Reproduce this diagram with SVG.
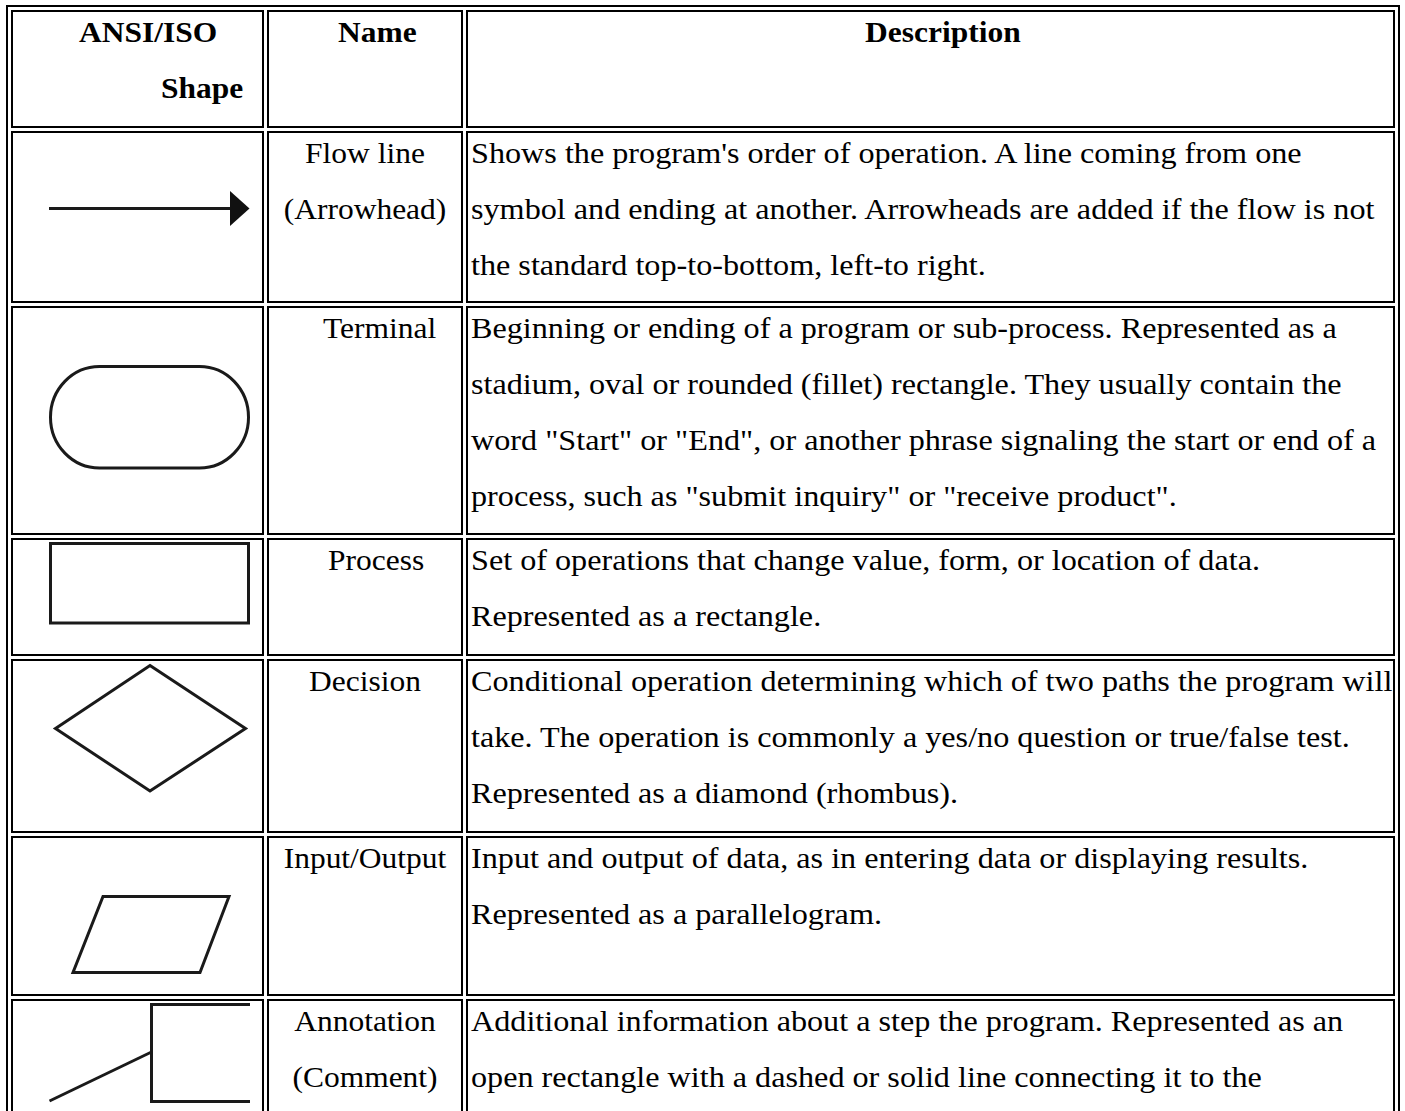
<svg xmlns="http://www.w3.org/2000/svg" width="1405" height="1111" viewBox="0 0 1405 1111">
<style>
.bd{fill:none;stroke:#000;stroke-width:2}
.t{font-family:"Liberation Serif","Times New Roman",serif;font-size:29px;fill:#000}
.h{font-weight:bold}
.m{text-anchor:middle}
.sh{fill:none;stroke:#1a1a1a;stroke-width:3}
</style>
<rect width="1405" height="1111" fill="#fff"/>
<g id="table-frame">
<path class="bd" d="M7,1200 V6 H1399 V1200"/>
</g>
<g id="header">
<rect class="bd" x="12" y="11" width="251" height="116"/>
<rect class="bd" x="268" y="11" width="194" height="116"/>
<rect class="bd" x="467" y="11" width="927" height="116"/>
<text class="t h" transform="translate(79 42) scale(1.086 1)">ANSI/ISO</text>
<text class="t h" transform="translate(161 98) scale(1.086 1)">Shape</text>
<text class="t h" transform="translate(338 42) scale(1.086 1)">Name</text>
<text class="t h" transform="translate(865 42) scale(1.086 1)">Description</text>
</g>
<g id="row-flowline">
<rect class="bd" x="12" y="132" width="251" height="170"/>
<rect class="bd" x="268" y="132" width="194" height="170"/>
<rect class="bd" x="467" y="132" width="927" height="170"/>
<line class="sh" x1="49" y1="208.5" x2="233" y2="208.5"/>
<polygon points="230,191 249.5,208.5 230,226" fill="#111"/>
<text class="t m" transform="translate(365 163) scale(1.086 1)">Flow line</text>
<text class="t m" transform="translate(365 219) scale(1.086 1)">(Arrowhead)</text>
<text class="t" transform="translate(471 163) scale(1.11 1)">Shows the program's order of operation. A line coming from one</text>
<text class="t" transform="translate(471 219) scale(1.11 1)">symbol and ending at another. Arrowheads are added if the flow is not</text>
<text class="t" transform="translate(471 275) scale(1.11 1)">the standard top-to-bottom, left-to right.</text>
</g>
<g id="row-terminal">
<rect class="bd" x="12" y="307" width="251" height="227"/>
<rect class="bd" x="268" y="307" width="194" height="227"/>
<rect class="bd" x="467" y="307" width="927" height="227"/>
<rect class="sh" x="50.5" y="366.5" width="198" height="101.5" rx="49" ry="50.75"/>
<text class="t" transform="translate(323 338) scale(1.086 1)">Terminal</text>
<text class="t" transform="translate(471 338) scale(1.11 1)">Beginning or ending of a program or sub-process. Represented as a</text>
<text class="t" transform="translate(471 394) scale(1.11 1)">stadium, oval or rounded (fillet) rectangle. They usually contain the</text>
<text class="t" transform="translate(471 450) scale(1.11 1)">word "Start" or "End", or another phrase signaling the start or end of a</text>
<text class="t" transform="translate(471 506) scale(1.11 1)">process, such as "submit inquiry" or "receive product".</text>
</g>
<g id="row-process">
<rect class="bd" x="12" y="539" width="251" height="116"/>
<rect class="bd" x="268" y="539" width="194" height="116"/>
<rect class="bd" x="467" y="539" width="927" height="116"/>
<rect class="sh" x="50.5" y="543.5" width="198" height="79.5"/>
<text class="t" transform="translate(328 570) scale(1.086 1)">Process</text>
<text class="t" transform="translate(471 570) scale(1.11 1)">Set of operations that change value, form, or location of data.</text>
<text class="t" transform="translate(471 626) scale(1.11 1)">Represented as a rectangle.</text>
</g>
<g id="row-decision">
<rect class="bd" x="12" y="660" width="251" height="172"/>
<rect class="bd" x="268" y="660" width="194" height="172"/>
<rect class="bd" x="467" y="660" width="927" height="172"/>
<polygon class="sh" points="150,665.5 245.5,728.5 150,791 55.5,728.5"/>
<text class="t m" transform="translate(365 691) scale(1.086 1)">Decision</text>
<text class="t" transform="translate(471 691) scale(1.11 1)">Conditional operation determining which of two paths the program will</text>
<text class="t" transform="translate(471 747) scale(1.11 1)">take. The operation is commonly a yes/no question or true/false test.</text>
<text class="t" transform="translate(471 803) scale(1.11 1)">Represented as a diamond (rhombus).</text>
</g>
<g id="row-io">
<rect class="bd" x="12" y="837" width="251" height="158"/>
<rect class="bd" x="268" y="837" width="194" height="158"/>
<rect class="bd" x="467" y="837" width="927" height="158"/>
<polygon class="sh" points="103,896.5 229,896.5 200,972.5 73,972.5"/>
<text class="t m" transform="translate(365 868) scale(1.086 1)">Input/Output</text>
<text class="t" transform="translate(471 868) scale(1.11 1)">Input and output of data, as in entering data or displaying results.</text>
<text class="t" transform="translate(471 924) scale(1.11 1)">Represented as a parallelogram.</text>
</g>
<g id="row-annotation">
<rect class="bd" x="12" y="1000" width="251" height="200"/>
<rect class="bd" x="268" y="1000" width="194" height="200"/>
<rect class="bd" x="467" y="1000" width="927" height="200"/>
<path class="sh" d="M250,1004.5 H151.5 V1101.5 H250"/>
<line class="sh" x1="49.5" y1="1101" x2="151.5" y2="1052"/>
<text class="t m" transform="translate(365 1031) scale(1.086 1)">Annotation</text>
<text class="t m" transform="translate(365 1087) scale(1.086 1)">(Comment)</text>
<text class="t" transform="translate(471 1031) scale(1.11 1)">Additional information about a step the program. Represented as an</text>
<text class="t" transform="translate(471 1087) scale(1.11 1)">open rectangle with a dashed or solid line connecting it to the</text>
</g>
</svg>
